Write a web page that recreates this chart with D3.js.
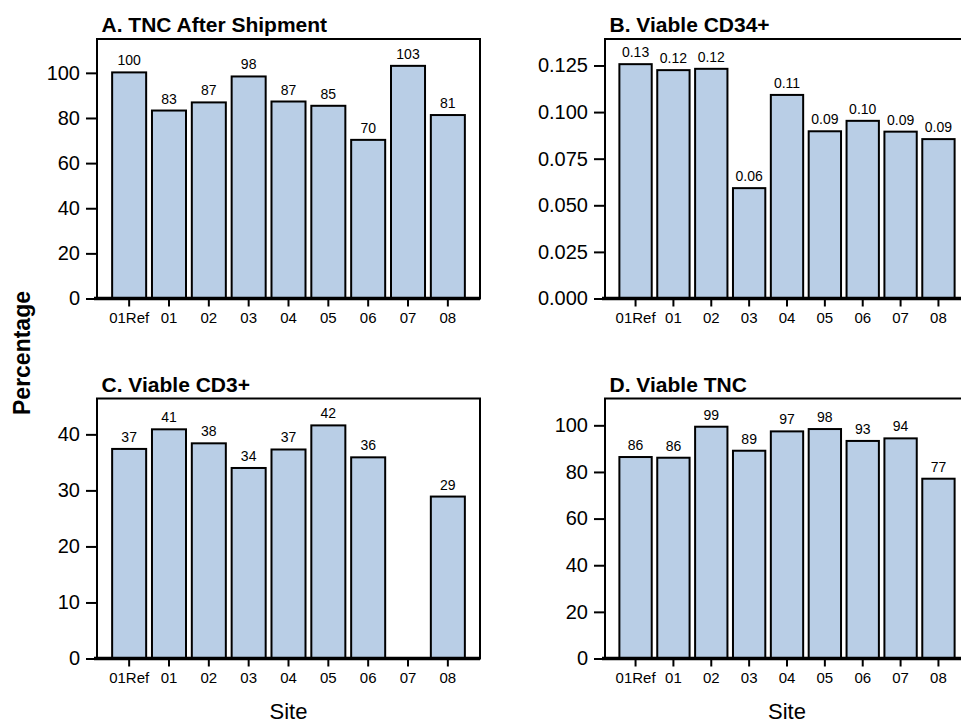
<!DOCTYPE html>
<html><head><meta charset="utf-8">
<script src="https://cdn.jsdelivr.net/npm/d3@7"></script>
<style>body{margin:0;background:#fff;} svg{display:block;font-family:"Liberation Sans",Arial,sans-serif;}</style>
</head><body>
<svg id="c" width="961" height="724"></svg>
<script>
const sites = ["01Ref","01","02","03","04","05","06","07","08"];
const tncAfterShipment = [100.2, 83.3, 86.9, 98.4, 87.3, 85.4, 70.3, 103.1, 81.3];
const viableCD34 = [0.1257, 0.1225, 0.1232, 0.0592, 0.1092, 0.0897, 0.0953, 0.0895, 0.0855];
const viableCD3 = [37.4, 40.9, 38.4, 34.0, 37.3, 41.6, 35.9, null, 28.9];
const viableTNC = [86.4, 86.1, 99.4, 89.1, 97.4, 98.4, 93.3, 94.4, 77.1];
const ticksA = [0, 20, 40, 60, 80, 100];
const ticksB = [0, 0.025, 0.05, 0.075, 0.1, 0.125];
const ticksC = [0, 10, 20, 30, 40];
const ticksD = [0, 20, 40, 60, 80, 100];
const titles = ["A. TNC After Shipment", "B. Viable CD34+", "C. Viable CD3+", "D. Viable TNC"];

const panels = [
  {title: titles[0], values: tncAfterShipment, ticks: ticksA, max: 115, fmtTick: d3.format("d"), fmtVal: d3.format(".0f"), x0: 97, x1: 480, y0: 39, y1: 298.5},
  {title: titles[1], values: viableCD34, ticks: ticksB, max: 0.1392, fmtTick: d3.format(".3f"), fmtVal: d3.format(".2f"), x0: 605, x1: 969, y0: 39, y1: 298.5},
  {title: titles[2], values: viableCD3, ticks: ticksC, max: 46.4, fmtTick: d3.format("d"), fmtVal: d3.format(".0f"), x0: 97, x1: 480, y0: 398.5, y1: 658.5},
  {title: titles[3], values: viableTNC, ticks: ticksD, max: 111.5, fmtTick: d3.format("d"), fmtVal: d3.format(".0f"), x0: 605, x1: 969, y0: 398.5, y1: 658.5}
];

const svg = d3.select("#c");

panels.forEach(p => {
  const g = svg.append("g");
  const x = d3.scaleBand().domain(sites).range([p.x0, p.x1]).paddingInner(0.146).paddingOuter(0.38);
  const y = d3.scaleLinear().domain([0, p.max]).range([p.y1, p.y0]);

  g.append("rect").attr("x", p.x0).attr("y", p.y0).attr("width", p.x1 - p.x0).attr("height", p.y1 - p.y0)
    .attr("fill", "none").attr("stroke", "#000").attr("stroke-width", 2);

  const data = sites.map((s, i) => ({site: s, v: p.values[i]})).filter(d => d.v != null);
  g.selectAll("rect.bar").data(data).join("rect").attr("class", "bar")
    .attr("x", d => x(d.site)).attr("width", x.bandwidth())
    .attr("y", d => y(d.v)).attr("height", d => y(0) - y(d.v))
    .attr("fill", "#b9cee6").attr("stroke", "#000").attr("stroke-width", 2);

  g.selectAll("text.val").data(data).join("text").attr("class", "val")
    .attr("x", d => x(d.site) + x.bandwidth() / 2).attr("y", d => y(d.v) - 7)
    .attr("text-anchor", "middle").attr("font-size", 14).attr("fill", "#000")
    .text(d => p.fmtVal(d.v));

  const ya = g.append("g").attr("transform", `translate(${p.x0 - 1},0)`)
    .call(d3.axisLeft(y).tickValues(p.ticks).tickFormat(p.fmtTick).tickSize(10).tickPadding(6));
  ya.select(".domain").remove();
  ya.selectAll(".tick line").attr("stroke", "#000").attr("stroke-width", 2);
  ya.selectAll(".tick text").attr("font-size", 20).attr("fill", "#000").attr("font-family", "Liberation Sans, Arial, sans-serif");

  const xa = g.append("g").attr("transform", `translate(0,${p.y1})`)
    .call(d3.axisBottom(x).tickSize(8).tickPadding(6));
  xa.select(".domain").remove();
  xa.selectAll(".tick line").attr("stroke", "#000").attr("stroke-width", 2);
  xa.selectAll(".tick text").attr("font-size", 15).attr("fill", "#000").attr("font-family", "Liberation Sans, Arial, sans-serif");

  g.append("line").attr("x1", p.x0 - 3).attr("x2", p.x1).attr("y1", p.y1).attr("y2", p.y1)
    .attr("stroke", "#000").attr("stroke-width", 3.5);

  g.append("text").attr("x", p.x0 + 4.5).attr("y", p.y0 - 7).attr("font-size", 21).attr("font-weight", "bold")
    .attr("fill", "#000").text(p.title);
});

[[97, 480], [605, 969]].forEach(([a, b]) => {
  svg.append("text").attr("x", (a + b) / 2).attr("y", 719).attr("text-anchor", "middle")
    .attr("font-size", 22).attr("fill", "#000").text("Site");
});

svg.append("text").attr("transform", "translate(30,353) rotate(-90)").attr("text-anchor", "middle")
  .attr("font-size", 23).attr("font-weight", "bold").attr("fill", "#000").text("Percentage");
</script>
</body></html>
